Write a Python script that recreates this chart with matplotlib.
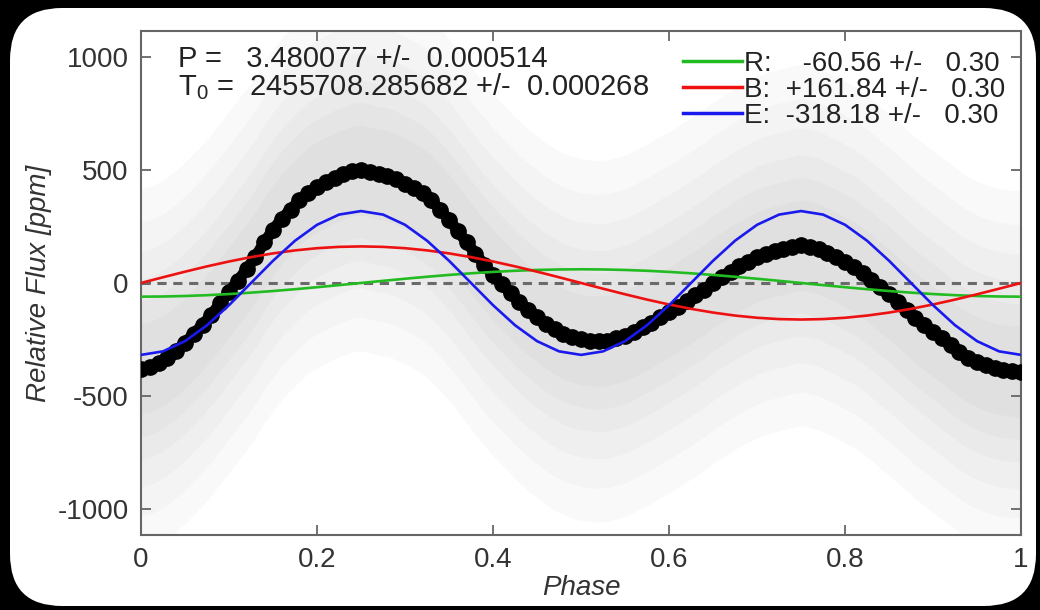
import numpy as np
import matplotlib.pyplot as plt
from matplotlib.patches import FancyBboxPatch
from matplotlib.lines import Line2D

plt.rcParams['font.family'] = ['Liberation Sans', 'DejaVu Sans']
plt.rcParams['mathtext.fontset'] = 'custom'
plt.rcParams['mathtext.rm'] = 'Liberation Sans'
plt.rcParams['axes.unicode_minus'] = False

# binned light curve (black dots), phase step 0.01
phase_bin = np.linspace(0, 1, 101)
flux_bin = [-380, -372, -355, -330, -300, -265, -225, -185, -140, -90,
            -40, 10, 60, 115, 180, 235, 285, 325, 365, 400,
            425, 445, 465, 480, 495, 500, 490, 480, 475, 460,
            440, 420, 397, 365, 322, 280, 230, 180, 130, 80,
            35, -5, -45, -85, -120, -150, -180, -205, -225, -240,
            -250, -255, -258, -255, -245, -235, -215, -195, -175, -150,
            -130, -105, -80, -55, -30, 0, 25, 50, 75, 95,
            115, 130, 140, 150, 160, 168, 160, 150, 132, 115,
            92, 72, 45, 15, -20, -50, -85, -120, -155, -185,
            -215, -245, -275, -305, -330, -350, -365, -377, -385, -390,
            -392]

# spread of the raw (unbinned) points around the binned curve, ppm
cloud_spread = [800, 650, 520, 400, 300, 200]

# model components, phase step 0.025
phase_mod = np.linspace(0, 1, 41)
refl = [-60.6, -59.8, -57.6, -54.0, -49.0, -42.8, -35.6, -27.5, -18.7, -9.5,
        0.0, 9.5, 18.7, 27.5, 35.6, 42.8, 49.0, 54.0, 57.6, 59.8,
        60.6, 59.8, 57.6, 54.0, 49.0, 42.8, 35.6, 27.5, 18.7, 9.5,
        0.0, -9.5, -18.7, -27.5, -35.6, -42.8, -49.0, -54.0, -57.6, -59.8,
        -60.6]
beam = [0.0, 25.3, 50.0, 73.5, 95.1, 114.4, 130.9, 144.2, 153.9, 159.8,
        161.8, 159.8, 153.9, 144.2, 130.9, 114.4, 95.1, 73.5, 50.0, 25.3,
        0.0, -25.3, -50.0, -73.5, -95.1, -114.4, -130.9, -144.2, -153.9, -159.8,
        -161.8, -159.8, -153.9, -144.2, -130.9, -114.4, -95.1, -73.5, -50.0, -25.3,
        0.0]
ellip = [-318.2, -302.6, -257.4, -187.0, -98.3, 0.0, 98.3, 187.0, 257.4, 302.6,
         318.2, 302.6, 257.4, 187.0, 98.3, 0.0, -98.3, -187.0, -257.4, -302.6,
         -318.2, -302.6, -257.4, -187.0, -98.3, 0.0, 98.3, 187.0, 257.4, 302.6,
         318.2, 302.6, 257.4, 187.0, 98.3, 0.0, -98.3, -187.0, -257.4, -302.6,
         -318.2]

labels = ['R:    -60.56 +/-   0.30', 'B:  +161.84 +/-   0.30', 'E:  -318.18 +/-   0.30']
colors = ['#22bb22', '#ee1111', '#1a1aee']

fig = plt.figure(figsize=(10.4, 6.1), dpi=100)
fig.patch.set_facecolor('black')
panel = FancyBboxPatch((10, 4), 1026, 598, boxstyle='round,pad=0,rounding_size=52',
                       transform=None, facecolor='white', edgecolor='none', zorder=-10)
fig.patches.append(panel)

ax = fig.add_axes([0.1356, 0.1230, 0.8462, 0.8262])
ax.set_facecolor('white')

# grey cloud of unbinned points
fb = np.array(flux_bin)
for s in cloud_spread:
    ax.fill_between(phase_bin, fb - s, fb + s, color='#888888', alpha=0.045, lw=0, zorder=1)

ax.axhline(0, color='#6a6a6a', lw=2.2, ls=(0, (3, 2.2)), zorder=2)
ax.plot(phase_bin, flux_bin, '-o', color='black', lw=8, ms=11, zorder=3)
for y, c in zip([refl, beam, ellip], colors):
    ax.plot(phase_mod, y, color=c, lw=1.9, zorder=4)

handles = [Line2D([], [], color=c, lw=2.5) for c in colors]
ax.legend(handles, labels, loc='upper right', frameon=False, fontsize=20,
          handlelength=2.1, handletextpad=0.1, labelspacing=0.0,
          borderaxespad=0.0, bbox_to_anchor=(0.995, 0.983),
          labelcolor='#222222')

ax.text(0.042, 0.9286, 'P =   3.480077 +/-  0.000514', transform=ax.transAxes,
        fontsize=21, color='#222222', va='baseline')
ax.text(0.042, 0.873, r'T$_{\rm 0}$ =  2455708.285682 +/-  0.000268', transform=ax.transAxes,
        fontsize=21, color='#222222', va='baseline')

ax.set_xlim(0, 1)
ax.set_ylim(-1115, 1115)
ax.set_xticks([0, 0.2, 0.4, 0.6, 0.8, 1])
ax.set_xticklabels(['0', '0.2', '0.4', '0.6', '0.8', '1'])
ax.set_yticks([-1000, -500, 0, 500, 1000])
ax.tick_params(direction='in', length=7, width=1.3, color='#666666', labelsize=20,
               labelcolor='#333333', top=True, right=True, pad=9)
for sp in ax.spines.values():
    sp.set_color('#666666')
    sp.set_linewidth(1.5)

ax.set_xlabel('Phase', fontsize=20, style='italic', color='#333333', labelpad=1)
ax.set_ylabel('Relative Flux [ppm]', fontsize=20, style='italic', color='#333333', labelpad=4)

fig.savefig('out.png', dpi=100, facecolor='black')
